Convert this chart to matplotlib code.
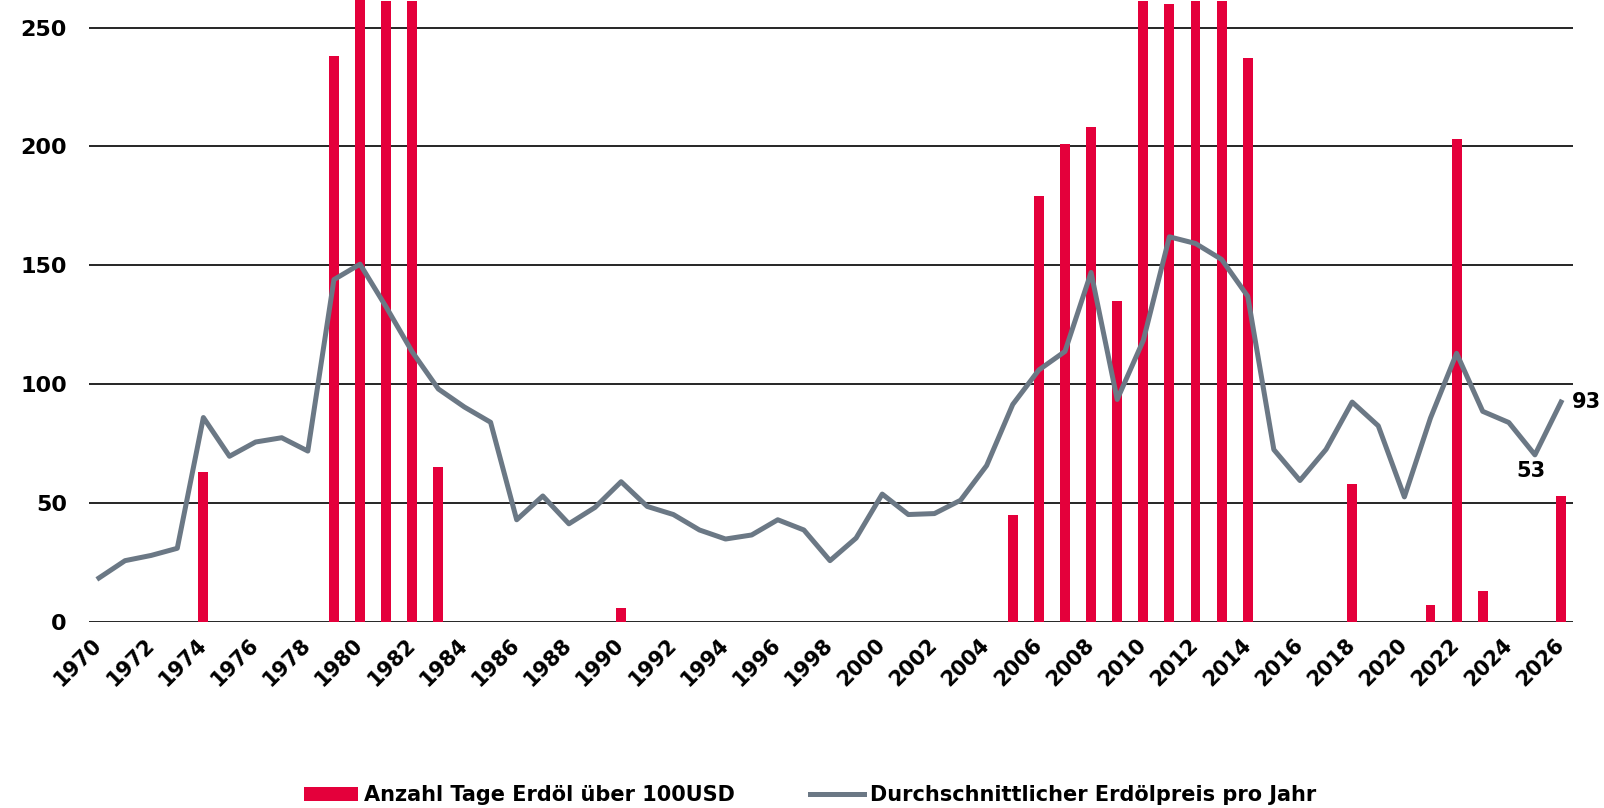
import matplotlib
matplotlib.use("Agg")
import matplotlib.pyplot as plt
from matplotlib import font_manager

# Years on the x axis
years = list(range(1970, 2027))

# Days per year with oil above 100 USD (bars)
days_above_100 = [
    0, 0, 0, 0, 63, 0, 0, 0, 0, 238,      # 1970-1979
    270, 261, 261, 65, 0, 0, 0, 0, 0, 0,  # 1980-1989
    6, 0, 0, 0, 0, 0, 0, 0, 0, 0,         # 1990-1999
    0, 0, 0, 0, 0, 45, 179, 201, 208, 135,  # 2000-2009
    261, 260, 261, 261, 237, 0, 0, 0, 58, 0,  # 2010-2019
    0, 7, 203, 13, 0, 0, 53,              # 2020-2026
]

# Average oil price per year (line)
avg_price = [
    18.5, 25.8, 28.0, 31.0, 86.0, 69.7, 75.7, 77.5, 71.9, 144.0,
    150.5, 132.5, 113.6, 98.0, 90.4, 84.0, 43.0, 53.0, 41.3, 48.2,
    59.0, 48.6, 45.2, 38.7, 34.9, 36.6, 43.0, 38.7, 25.8, 35.3,
    53.8, 45.2, 45.6, 51.2, 65.8, 91.5, 106.0, 113.8, 147.0, 93.6,
    118.4, 162.0, 159.2, 152.5, 137.0, 72.5, 59.5, 72.6, 92.5, 82.5,
    52.6, 85.8, 113.0, 88.6, 83.9, 70.3, 92.5,
]

tick_years = list(range(1970, 2027, 2))

bar_label = "Anzahl Tage Erdöl über 100USD"
line_label = "Durchschnittlicher Erdölpreis pro Jahr"

red = "#e4003b"
grey = "#6b7885"

plt.rcParams["font.family"] = "DejaVu Sans"
plt.rcParams["font.weight"] = "bold"

# narrow font for the legend if there is one
names = {f.name for f in font_manager.fontManager.ttflist}
legend_family = "Liberation Sans Narrow" if "Liberation Sans Narrow" in names else "DejaVu Sans"

fig = plt.figure(figsize=(16.04, 8.08), dpi=100)
ax = fig.add_axes([0.0555, 0.2302, 0.9252, 0.7698])

bars = ax.bar(years, days_above_100, width=0.38, color=red, label=bar_label, zorder=2)
line, = ax.plot(years, avg_price, color=grey, linewidth=3.6, label=line_label, zorder=3)

ax.set_xlim(1969.62, 2026.46)
ax.set_ylim(0, 261.6)
ax.set_yticks([0, 50, 100, 150, 200, 250])
ax.set_xticks(tick_years)
ax.set_xticklabels([str(y) for y in tick_years], rotation=45, ha="right",
                   va="center", rotation_mode="anchor", fontsize=15, fontweight="bold")
ax.tick_params(axis="y", labelsize=16, length=0, pad=16)
ax.tick_params(axis="x", length=0, pad=14)

ax.grid(axis="y", color="black", linewidth=1.2, zorder=0)
ax.set_axisbelow(True)
for s in ax.spines.values():
    s.set_visible(False)

# end labels
ax.annotate("93", (years[-1], avg_price[-1]), xytext=(8, 0), textcoords="offset points",
            ha="left", va="center", fontsize=15, fontweight="bold")
ax.annotate("53", (years[-1], days_above_100[-1]), xytext=(-22, 18), textcoords="offset points",
            ha="center", va="center", fontsize=15, fontweight="bold")

fig.legend([bars, line], [bar_label, line_label],
           loc="lower center", bbox_to_anchor=(0.505, -0.02), ncol=2, frameon=False,
           prop={"family": legend_family, "weight": "bold", "size": 15},
           handlelength=2.6, handletextpad=0.3, columnspacing=3.6)

fig.savefig("out.png", dpi=100)
